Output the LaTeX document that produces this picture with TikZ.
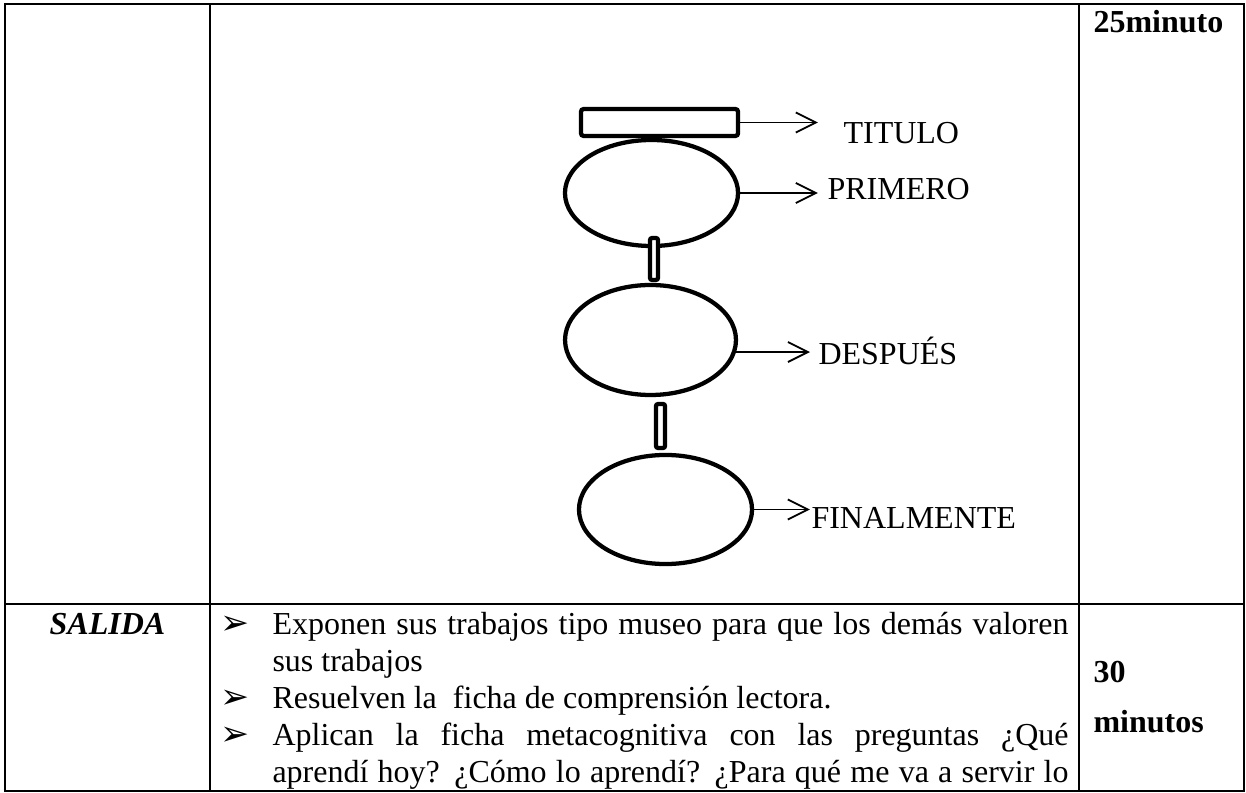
\documentclass[tikz,border=0pt]{standalone}
\usepackage{fontspec}
\setmainfont{Liberation Serif}
\newfontfamily\dingfont{DejaVu Sans}
\usetikzlibrary{
    arrows.meta,
    shapes.geometric
}
\tikzset{
    line cap=round,
    line join=round,
    rule/.style={draw=black, line width=0.85pt},
    titlebar/.style={
        rectangle,
        draw=black,
        line width=1.6pt,
        rounded corners=1pt,
        fill=white,
        minimum width=58.9pt,
        minimum height=10.1pt,
        inner sep=0pt
    },
    stage/.style={
        ellipse,
        draw=black,
        line width=1.6pt,
        fill=white,
        inner sep=0pt
    },
    link/.style={
        rectangle,
        draw=black,
        line width=1.6pt,
        rounded corners=0.8pt,
        fill=white,
        inner sep=0pt
    },
    pointer/.style={
        -{Straight Barb[length=7.5pt, width=7.5pt]},
        draw=black,
        line width=0.7pt
    },
    stagelabel/.style={
        anchor=base west,
        inner sep=0pt,
        font=\fontsize{12}{14}\selectfont
    },
    celltext/.style={
        anchor=base west,
        inner sep=0pt,
        font=\fontsize{12}{13.9}\selectfont
    },
    celltime/.style={
        celltext,
        font=\bfseries\fontsize{12}{13.9}\selectfont
    },
    cellhead/.style={
        anchor=base,
        inner sep=0pt,
        font=\bfseries\itshape\fontsize{12}{13.9}\selectfont
    },
    bullet/.style={
        anchor=base west,
        inner sep=0pt,
        font=\dingfont\fontsize{13}{14}\selectfont
    }
}

\begin{document}
\begin{tikzpicture}[x=0.375pt, y=-0.375pt]
\useasboundingbox (0,0) rectangle (1246,793);

% Table frame
\draw[rule] (5,4) rectangle (1244,791);
\draw[rule] (210,4) -- (210,791);
\draw[rule] (1079,4) -- (1079,791);
\draw[rule] (5,604) -- (1244,604);

% Sequence diagram
\node[titlebar] (bar) at (659.5,122.5) {};
\node[stage, minimum width=64.9pt, minimum height=39.75pt] (first) at (651.5,193) {};
\node[stage, minimum width=64.1pt, minimum height=41.25pt] (then) at (650.5,340) {};
\node[stage, minimum width=64.9pt, minimum height=40.9pt] (last) at (665.5,509.5) {};
\node[link, minimum width=3pt, minimum height=15.75pt] (linkA) at (654,259) {};
\node[link, minimum width=3.4pt, minimum height=16.5pt] (linkB) at (660.5,426) {};

\node[stagelabel] (lblTitle) at (843,144) {TITULO};
\node[stagelabel] (lblFirst) at (827,200) {PRIMERO};
\node[stagelabel] (lblThen) at (818,365) {DESPUÉS};
\node[stagelabel] (lblLast) at (811,528) {FINALMENTE};

\draw[pointer, shorten >=9.4pt] (bar.east) -- (bar.east -| lblTitle.west);
\draw[pointer, shorten >=3.4pt] (first.east) -- (first.east -| lblFirst.west);
\draw[pointer, shorten >=3pt] (then.-8) -- (then.-8 -| lblThen.west);
\draw[pointer, shorten >=0.4pt] (last.east) -- (last.east -| lblLast.west);

% Cells
\node[celltime] (timeTop) at (1093,33) {25minuto};
\node[cellhead] (exit) at (107.5,634) {SALIDA};
\node[celltime] (timeA) at (1093,682) {30};
\node[celltime] (timeB) at (1093,732) {minutos};

\node[bullet] (bulA) at (220,634) {➢};
\node[bullet] (bulB) at (220,708) {➢};
\node[bullet] (bulC) at (220,745) {➢};
\node[celltext] (itemA) at (272,634) {\parbox[t]{298.5pt}{\sloppy Exponen sus trabajos tipo museo para que los demás valoren\linebreak sus trabajos}};
\node[celltext] (itemB) at (272,708) {\parbox[t]{298.5pt}{Resuelven la~\ ficha de comprensión lectora.}};
\node[celltext] (itemC) at (272,745) {\parbox[t]{298.5pt}{\sloppy\parfillskip=0pt Aplican la ficha metacognitiva con las preguntas ¿Qué\linebreak aprendí hoy? ¿Cómo lo aprendí? ¿Para qué me va a servir lo}};

\end{tikzpicture}
\end{document}
